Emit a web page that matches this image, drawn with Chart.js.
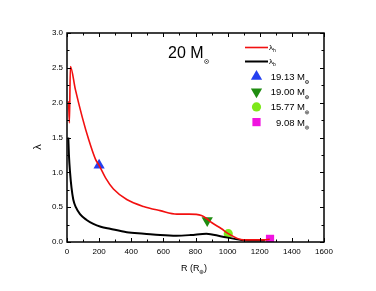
<!DOCTYPE html>
<html>
<head>
<script src="https://cdn.jsdelivr.net/npm/chart.js@4.4.0/dist/chart.umd.min.js"></script>
<style>
  html, body { margin: 0; padding: 0; background: #fff; }
  #wrap { width: 376px; height: 291px; }
</style>
</head>
<body>
<div id="wrap"><canvas id="lambdaChart"></canvas></div>
<script>
// lambda_h (red) and lambda_b (black) vs radius
redR = [10, 15, 21, 52, 94, 135, 177, 200, 240, 289, 372, 476, 580, 684, 760, 837, 873, 900, 962, 1004, 1097, 1232, 1262];
redL = [2.02, 1.71, 2.52, 2.19, 1.80, 1.47, 1.19, 1.10, 0.92, 0.76, 0.61, 0.51, 0.45, 0.40, 0.40, 0.38, 0.33, 0.28, 0.19, 0.12, 0.03, 0.03, 0.04];
blackR = [8, 12, 19, 28, 39, 55, 81, 120, 164, 210, 268, 372, 480, 580, 680, 770, 868, 962, 1087, 1232];
blackL = [1.5, 1.25, 1.0, 0.78, 0.61, 0.50, 0.40, 0.32, 0.26, 0.22, 0.19, 0.14, 0.12, 0.10, 0.09, 0.10, 0.12, 0.08, 0.03, 0.02];

// marked stages
markR = [200, 873, 1004, 1264];
markL = [1.10, 0.31, 0.12, 0.045];
markLabels = ['19.13', '19.00', '15.77', '9.08'];
markColors = ['#2440f0', '#1f8c10', '#7de81a', '#f014e0'];
markStyles = ['triangle', 'triangle', 'circle', 'rect'];
markRot = [0, 180, 0, 0];
markSize = [6.5, 6.5, 4.6, 5.8];

xTicks = [0, 200, 400, 600, 800, 1000, 1200, 1400, 1600];
yTicks = [0.0, 0.5, 1.0, 1.5, 2.0, 2.5, 3.0];

FONT = '"Liberation Sans", Arial, sans-serif';

function pts(xs, ys) { return xs.map((x, i) => ({ x: x, y: ys[i] })); }

datasets = [
  { label: 'h', data: pts(redR, redL), borderColor: '#f21010', borderWidth: 1.6, showLine: true, pointRadius: 0, cubicInterpolationMode: 'monotone' },
  { label: 'b', data: pts(blackR, blackL), borderColor: '#000', borderWidth: 2, showLine: true, pointRadius: 0, cubicInterpolationMode: 'monotone' }
];
markR.forEach(function (r, i) {
  datasets.push({
    label: markLabels[i], data: [{ x: r, y: markL[i] }],
    pointStyle: markStyles[i], rotation: markRot[i], pointRadius: markSize[i],
    backgroundColor: markColors[i], borderColor: markColors[i], borderWidth: 0, showLine: false
  });
});

function drawSun(ctx, x, y, r) {
  ctx.save();
  ctx.lineWidth = 0.6;
  ctx.beginPath(); ctx.arc(x, y, r, 0, Math.PI * 2); ctx.stroke();
  ctx.beginPath(); ctx.arc(x, y, 0.6, 0, Math.PI * 2); ctx.fill();
  ctx.restore();
}

decor = {
  id: 'decor',
  afterDraw: function (chart) {
    const ctx = chart.ctx, a = chart.chartArea;
    const xs = chart.scales.x, ys = chart.scales.y;
    ctx.save();
    ctx.strokeStyle = '#000'; ctx.fillStyle = '#000';
    // frame
    ctx.lineWidth = 1.5;
    ctx.strokeRect(a.left, a.top, a.right - a.left, a.bottom - a.top);
    // inward ticks on all sides
    ctx.lineWidth = 1;
    for (let v = 0; v <= 1600; v += 100) {
      const p = Math.round(xs.getPixelForValue(v)) + 0.5;
      const len = v % 200 === 0 ? 4 : 2.5;
      ctx.beginPath();
      ctx.moveTo(p, a.bottom); ctx.lineTo(p, a.bottom - len);
      ctx.moveTo(p, a.top); ctx.lineTo(p, a.top + len);
      ctx.stroke();
    }
    for (let k = 0; k <= 12; k++) {
      const v = k * 0.25;
      const p = Math.round(ys.getPixelForValue(v)) + 0.5;
      const len = k % 2 === 0 ? 4 : 2.5;
      ctx.beginPath();
      ctx.moveTo(a.left, p); ctx.lineTo(a.left + len, p);
      ctx.moveTo(a.right, p); ctx.lineTo(a.right - len, p);
      ctx.stroke();
    }
    // title
    ctx.textBaseline = 'alphabetic';
    ctx.textAlign = 'left';
    ctx.font = '16px ' + FONT;
    ctx.fillText('20 M', 168, 58);
    let w = ctx.measureText('20 M').width;
    drawSun(ctx, 168 + w + 3, 61.5, 2);
    // axis titles
    ctx.font = '9px ' + FONT;
    ctx.fillText('R (R', 181, 271);
    w = ctx.measureText('R (R').width;
    drawSun(ctx, 181 + w + 2, 272, 1.6);
    ctx.fillText(')', 181 + w + 4.5, 271);
    ctx.save();
    ctx.translate(41, 147);
    ctx.rotate(-Math.PI / 2);
    ctx.font = '11px ' + FONT;
    ctx.textAlign = 'center';
    ctx.fillText('\u03bb', 0, 0);
    ctx.restore();
    // legend
    const lx0 = 245, lx1 = 268;
    [0, 1].forEach(function (i) {
      const ds = chart.data.datasets[i];
      const y = 47.5 + i * 14;
      ctx.strokeStyle = ds.borderColor; ctx.lineWidth = ds.borderWidth;
      ctx.beginPath(); ctx.moveTo(lx0, y); ctx.lineTo(lx1, y); ctx.stroke();
      ctx.fillStyle = '#000';
      ctx.font = '8px ' + FONT;
      ctx.fillText('\u03bb', lx1 + 1, y + 2);
      ctx.font = '5px ' + FONT;
      ctx.fillText(ds.label, lx1 + 5, y + 4);
    });
    ctx.restore();
    ctx.save();
    for (let i = 0; i < markR.length; i++) {
      const ds = chart.data.datasets[i + 2];
      const y = 76.5 + i * 15.2;
      ctx.fillStyle = ds.backgroundColor; ctx.strokeStyle = ds.borderColor;
      Chart.helpers.drawPoint(ctx, { pointStyle: ds.pointStyle, rotation: ds.rotation, radius: ds.pointRadius, borderWidth: 0 }, 256.5, y);
      ctx.fillStyle = '#000'; ctx.strokeStyle = '#000';
      ctx.font = '9.5px ' + FONT;
      ctx.textAlign = 'right';
      ctx.fillText(ds.label + ' M', 305, y + 3.5);
      drawSun(ctx, 307, y + 5.5, 1.6);
    }
    ctx.restore();
  }
};

new Chart(document.getElementById('lambdaChart'), {
  type: 'scatter',
  data: { datasets: datasets },
  options: {
    responsive: true,
    maintainAspectRatio: false,
    animation: false,
    layout: { padding: { left: 0, right: 52, top: 33, bottom: 0 } },
    plugins: { legend: { display: false }, tooltip: { enabled: false } },
    scales: {
      x: {
        type: 'linear', min: 0, max: 1600,
        afterBuildTicks: function (s) { s.ticks = xTicks.map(v => ({ value: v })); },
        afterFit: function (s) { s.height = 49; },
        grid: { display: false, drawTicks: false },
        border: { display: false },
        ticks: { padding: 5, color: '#000', font: { family: FONT, size: 8 }, maxRotation: 0, autoSkip: false, callback: v => String(v) }
      },
      y: {
        type: 'linear', min: 0, max: 3,
        afterBuildTicks: function (s) { s.ticks = yTicks.map(v => ({ value: v })); },
        afterFit: function (s) { s.width = 67; },
        grid: { display: false, drawTicks: false },
        border: { display: false },
        ticks: { padding: 4, color: '#000', font: { family: FONT, size: 8 }, callback: v => v.toFixed(1) }
      }
    }
  },
  plugins: [decor]
});
</script>
</body>
</html>
